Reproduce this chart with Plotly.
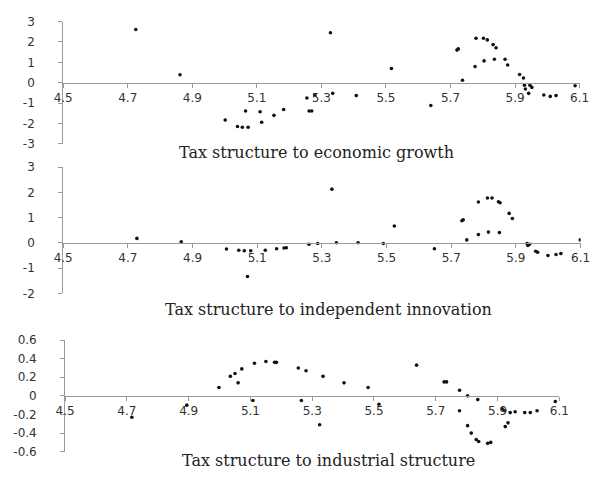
import plotly.graph_objects as go

# Panel 1: tax structure vs. economic growth
x_growth = [4.725, 4.862, 5.002, 5.040, 5.055, 5.073, 5.065, 5.110, 5.115, 5.153,
            5.183, 5.255, 5.262, 5.270, 5.280, 5.328, 5.335, 5.408, 5.517, 5.639,
            5.720, 5.724, 5.737, 5.776, 5.779, 5.802, 5.814, 5.832, 5.841, 5.804,
            5.836, 5.869, 5.877, 5.914, 5.926, 5.929, 5.932, 5.946, 5.952, 5.942,
            5.989, 6.009, 6.027, 6.086]
y_growth = [2.61, 0.39, -1.83, -2.15, -2.18, -2.18, -1.39, -1.42, -1.94, -1.60,
            -1.31, -0.75, -1.39, -1.39, -0.60, 2.45, -0.52, -0.63, 0.70, -1.12,
            1.60, 1.66, 0.12, 0.79, 2.18, 2.18, 2.10, 1.87, 1.71, 1.07,
            1.15, 1.15, 0.87, 0.40, 0.23, -0.12, -0.31, -0.12, -0.23, -0.52,
            -0.60, -0.67, -0.63, -0.15]

# Panel 2: tax structure vs. independent innovation
x_innov = [4.728, 4.865, 5.005, 5.043, 5.060, 5.080, 5.070, 5.125, 5.160, 5.183,
           5.190, 5.260, 5.287, 5.331, 5.345, 5.412, 5.490, 5.524, 5.648, 5.733,
           5.737, 5.748, 5.784, 5.784, 5.812, 5.826, 5.815, 5.846, 5.851, 5.849,
           5.879, 5.889, 5.934, 5.937, 5.942, 5.961, 5.967, 5.999, 6.024, 6.039,
           6.099]
y_innov = [0.18, 0.05, -0.24, -0.29, -0.31, -0.31, -1.33, -0.29, -0.23, -0.20,
           -0.19, -0.05, -0.02, 2.13, 0.01, 0.01, -0.02, 0.67, -0.23, 0.88,
           0.92, 0.12, 1.62, 0.33, 1.78, 1.78, 0.43, 1.63, 1.59, 0.41,
           1.17, 0.97, -0.02, -0.10, -0.05, -0.33, -0.37, -0.50, -0.46, -0.42,
           0.12]

# Panel 3: tax structure vs. industrial structure
x_indus = [4.716, 4.894, 4.998, 5.035, 5.050, 5.060, 5.072, 5.108, 5.113, 5.150,
           5.178, 5.184, 5.255, 5.265, 5.280, 5.335, 5.324, 5.403, 5.481, 5.516,
           5.638, 5.727, 5.735, 5.777, 5.777, 5.803, 5.803, 5.815, 5.831, 5.839,
           5.836, 5.868, 5.878, 5.915, 5.925, 5.934, 5.923, 5.941, 5.957, 5.988,
           6.006, 6.028, 6.087]
y_indus = [-0.23, -0.10, 0.09, 0.21, 0.24, 0.14, 0.29, -0.05, 0.35, 0.37,
           0.36, 0.36, 0.30, -0.05, 0.27, 0.21, -0.31, 0.14, 0.09, -0.09,
           0.33, 0.15, 0.15, 0.06, -0.16, 0.00, -0.32, -0.40, -0.47, -0.49,
           -0.04, -0.51, -0.50, -0.14, -0.33, -0.29, -0.16, -0.18, -0.17, -0.18,
           -0.18, -0.16, -0.06]

x_ticks = [4.5, 4.7, 4.9, 5.1, 5.3, 5.5, 5.7, 5.9, 6.1]
x_tick_text = ["4.5", "4.7", "4.9", "5.1", "5.3", "5.5", "5.7", "5.9", "6.1"]
y1_ticks = [-3, -2, -1, 0, 1, 2, 3]
y2_ticks = [-2, -1, 0, 1, 2, 3]
y3_ticks = [-0.6, -0.4, -0.2, 0, 0.2, 0.4, 0.6]

titles = ["Tax structure to economic growth",
          "Tax structure to independent innovation",
          "Tax structure to industrial structure"]

W, H = 608, 482
AXIS_COLOR = "#9a9a9a"
TICK_FONT = dict(family="DejaVu Sans", size=12, color="#333333")


def fmt(v):
    return f"{v:g}"


# pixel boxes for each panel
panels = [
    dict(x0=55, x1=589, yt=15, yb=141, ymin=-3, ymax=3, yt_vals=y1_ticks),
    dict(x0=55, x1=590, yt=165, yb=295, ymin=-2, ymax=3, yt_vals=y2_ticks),
    dict(x0=57, x1=568, yt=343, yb=458, ymin=-0.6, ymax=0.6, yt_vals=y3_ticks),
]
data = [(x_growth, y_growth), (x_innov, y_innov), (x_indus, y_indus)]
title_pos = [(317, 150), (329, 312), (329, 467)]

fig = go.Figure()
layout = dict(
    width=W, height=H,
    margin=dict(l=0, r=0, t=0, b=0),
    paper_bgcolor="white", plot_bgcolor="white",
    showlegend=False,
    annotations=[],
)

for i, (p, (xs, ys)) in enumerate(zip(panels, data)):
    n = "" if i == 0 else str(i + 1)
    fig.add_trace(go.Scatter(
        x=xs, y=ys, mode="markers",
        marker=dict(size=3.6, color="#111111"),
        xaxis="x" + n, yaxis="y" + n,
    ))
    ydom = [1 - p["yb"] / H, 1 - p["yt"] / H]
    zero_frac = ydom[0] + (0 - p["ymin"]) / (p["ymax"] - p["ymin"]) * (ydom[1] - ydom[0])
    layout["xaxis" + n] = dict(
        domain=[p["x0"] / W, p["x1"] / W],
        range=[4.5, 6.1],
        anchor="free", position=zero_frac,
        showgrid=False, zeroline=False,
        showline=True, linecolor=AXIS_COLOR, linewidth=1,
        ticks="outside", ticklen=4, tickcolor=AXIS_COLOR,
        tickvals=x_ticks, ticktext=x_tick_text,
        tickfont=TICK_FONT, ticklabelstandoff=0,
    )
    layout["yaxis" + n] = dict(
        domain=ydom,
        range=[p["ymin"], p["ymax"]],
        anchor="x" + n,
        showgrid=False, zeroline=False,
        showline=True, linecolor=AXIS_COLOR, linewidth=1,
        ticks="outside", ticklen=4, tickcolor=AXIS_COLOR,
        tickvals=p["yt_vals"], ticktext=[fmt(v) for v in p["yt_vals"]],
        tickfont=TICK_FONT, ticklabelstandoff=21,
    )
    tx, ty = title_pos[i]
    layout["annotations"].append(dict(
        text=titles[i], x=tx / W, y=1 - ty / H,
        xref="paper", yref="paper", xanchor="center", yanchor="middle",
        showarrow=False,
        font=dict(family="DejaVu Serif", size=16, color="#222222"),
    ))

fig.update_layout(**layout)
fig.write_html("out.html")
